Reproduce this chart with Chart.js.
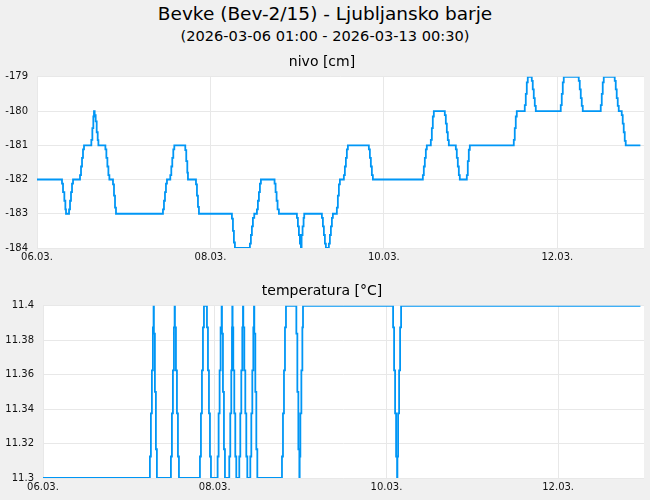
<!DOCTYPE html>
<html>
<head>
<meta charset="utf-8">
<script src="https://cdn.jsdelivr.net/npm/chart.js@4.4.1/dist/chart.umd.min.js"></script>
<style>
body { margin:0; background:#f0f0f0; width:650px; height:500px; overflow:hidden; font-family:"DejaVu Sans", sans-serif; }
#title { position:absolute; left:0; top:3px; width:650px; text-align:center; font-size:18.5px; line-height:21px; color:#000; }
#subtitle { position:absolute; left:0; top:27px; width:650px; text-align:center; font-size:14.6px; line-height:18px; color:#000; }
#c1 { position:absolute; left:0; top:50px; }
#c2 { position:absolute; left:0; top:279px; }
</style>
</head>
<body>
<div id="title">Bevke (Bev-2/15) - Ljubljansko barje</div>
<div id="subtitle">(2026-03-06 01:00 - 2026-03-13 00:30)</div>
<canvas id="c1" width="650" height="221"></canvas>
<canvas id="c2" width="650" height="221"></canvas>
<script>
// hours from 06.03. 00:00, value holds until next point (stepped)
var nivoHours = [0, 6.92, 7.2, 7.57, 7.85, 8.03, 8.87, 9.14, 9.41, 9.69, 9.97,
  11.9, 12.18, 12.46, 12.73, 13.01, 15.04, 15.32, 15.59, 15.77, 15.96, 16.24, 16.52, 16.8, 16.99,
  18.93, 19.2, 19.48, 19.76, 20.03, 21.03, 21.31, 21.59, 21.86,
  34.86, 35.14, 35.42, 35.69, 35.97, 36.89, 37.17, 37.44, 37.72, 38.0,
  41.04, 41.31, 41.6, 41.78, 44.0, 44.27, 44.55, 44.82,
  53.95, 54.23, 54.5, 54.78, 58.93, 59.2, 59.48, 59.76, 60.13,
  60.87, 61.14, 61.42, 61.7, 61.97, 65.75, 66.03, 66.31, 66.58, 66.95,
  71.93, 72.21, 72.49, 72.76, 73.04, 73.23, 73.5, 73.78, 73.96,
  78.85, 79.13, 79.4, 79.68, 79.95, 80.78, 81.06, 81.34, 81.62, 81.89,
  82.99, 83.27, 83.55, 83.83, 84.93, 85.21, 85.49, 85.76, 86.04,
  91.85, 92.13, 92.4, 92.68, 92.96,
  106.79, 107.06, 107.34, 107.62, 107.89, 109.0, 109.28, 109.55, 109.83,
  112.87, 113.15, 113.43, 113.7, 113.98, 115.92, 116.19, 116.47, 116.75, 117.02,
  118.96, 119.23, 119.51, 119.79,
  131.96, 132.23, 132.51, 132.79, 135.0, 135.28, 135.56, 135.83,
  136.94, 137.21, 137.49, 137.77, 138.05,
  144.96, 145.24, 145.52, 145.79, 149.94, 150.22, 150.5, 150.77, 151.05,
  156.03, 156.31, 156.58, 156.86, 159.9, 160.18, 160.45, 160.73, 161.01,
  161.84, 162.11, 162.39, 162.67, 162.94, 167];
var nivoValues = [-182, -182.12, -182.37, -182.62, -182.87, -183, -182.87, -182.62, -182.37, -182.12, -182,
  -181.87, -181.62, -181.37, -181.12, -181, -180.84, -180.5, -180.16, -180, -180.12, -180.3, -180.62, -180.85, -181,
  -181.12, -181.37, -181.62, -181.87, -182, -182.14, -182.47, -182.82, -183,
  -182.87, -182.62, -182.37, -182.12, -182, -181.87, -181.62, -181.37, -181.12, -181,
  -181.14, -181.46, -181.8, -182, -182.14, -182.47, -182.8, -183,
  -183.14, -183.5, -183.84, -184, -183.87, -183.62, -183.37, -183.12, -183,
  -182.87, -182.62, -182.37, -182.12, -182, -182.12, -182.37, -182.62, -182.87, -183,
  -183.12, -183.37, -183.62, -183.87, -184, -183.62, -183.37, -183.12, -183,
  -183.12, -183.37, -183.62, -183.87, -184, -183.87, -183.62, -183.37, -183.12, -183,
  -182.82, -182.47, -182.14, -182, -181.87, -181.62, -181.37, -181.12, -181,
  -181.12, -181.37, -181.62, -181.87, -182,
  -181.87, -181.62, -181.37, -181.12, -181, -180.84, -180.5, -180.16, -180,
  -180.12, -180.37, -180.62, -180.85, -181, -181.12, -181.37, -181.62, -181.87, -182,
  -181.87, -181.46, -181.13, -181,
  -180.84, -180.5, -180.16, -180, -179.83, -179.5, -179.16, -179,
  -179.12, -179.37, -179.62, -179.85, -180,
  -179.83, -179.5, -179.16, -179, -179.12, -179.37, -179.62, -179.85, -180,
  -179.83, -179.5, -179.16, -179, -179.12, -179.37, -179.62, -179.85, -180,
  -180.12, -180.37, -180.62, -180.87, -181, -181];

var tempHours = [0, 29.88, 30.16, 30.44, 30.72, 30.91, 31.0, 31.28, 31.56, 31.84,
  35.76, 36.04, 36.32, 36.6, 36.79, 36.88, 37.16, 37.44, 37.72, 38.0,
  43.87, 44.15, 44.43, 44.71, 44.99, 45.83, 46.11, 46.39, 46.67, 46.95,
  48.81, 49.09, 49.37, 49.65, 49.93, 50.03, 50.3, 50.58, 50.86,
  52.07, 52.35, 52.63, 52.82, 52.91, 53.0, 53.19, 53.47, 53.75, 54.03,
  54.87, 55.15, 55.43, 55.71, 55.9, 55.99, 56.27, 56.55, 56.83, 57.11,
  57.95, 58.23, 58.51, 58.79, 58.98, 59.07, 59.35, 59.63, 59.91,
  66.8, 67.08, 67.36, 67.64, 67.92, 70.82, 71.1, 71.38, 71.66,
  71.75, 71.94, 72.22, 72.5, 72.68,
  97.86, 98.14, 98.42, 98.7, 98.98, 99.07, 99.26, 99.54, 99.82, 100.1, 167];
var tempValues = [11.3, 11.3125, 11.3375, 11.3625, 11.3875, 11.4, 11.3838, 11.35, 11.3167, 11.3,
  11.3125, 11.3375, 11.3625, 11.3875, 11.4, 11.3875, 11.3625, 11.3375, 11.3125, 11.3,
  11.3125, 11.3375, 11.3625, 11.3875, 11.4, 11.3875, 11.3625, 11.3375, 11.3125, 11.3,
  11.3125, 11.3375, 11.3625, 11.3875, 11.4, 11.3838, 11.35, 11.3167, 11.3,
  11.3125, 11.3375, 11.3625, 11.3875, 11.4, 11.3875, 11.3625, 11.3375, 11.3125, 11.3,
  11.3125, 11.3375, 11.3625, 11.3875, 11.4, 11.3875, 11.3625, 11.3375, 11.3125, 11.3,
  11.3125, 11.3375, 11.3625, 11.3875, 11.4, 11.3838, 11.35, 11.3167, 11.3,
  11.3125, 11.3375, 11.3625, 11.3875, 11.4, 11.3838, 11.35, 11.3167, 11.3,
  11.3125, 11.3375, 11.3625, 11.3875, 11.4,
  11.3875, 11.3625, 11.3375, 11.3125, 11.3, 11.3125, 11.3375, 11.3625, 11.3875, 11.4, 11.4];

var xTickHours = [0, 48, 96, 144];
var xTickLabels = ['06.03.', '08.03.', '10.03.', '12.03.'];
var nivoTicks = [-184, -183, -182, -181, -180, -179];
var tempTicks = [11.3, 11.32, 11.34, 11.36, 11.38, 11.4];

var lineColor = 'rgb(0,150,245)';
var gridColor = '#e8e8e8';
var fontName = "'DejaVu Sans', sans-serif";

var whiteArea = {
  id: 'whiteArea',
  beforeDraw: function(chart) {
    var a = chart.chartArea;
    var ctx = chart.ctx;
    ctx.save();
    ctx.fillStyle = '#ffffff';
    ctx.fillRect(a.left, a.top, a.right - a.left, a.bottom - a.top);
    ctx.restore();
  }
};

function points(hours, values) {
  return hours.map(function(h, i) { return {x: h, y: values[i]}; });
}

function makeChart(id, title, hours, values, yTicks, yWidth, padBottom) {
  var ctx = document.getElementById(id).getContext('2d');
  return new Chart(ctx, {
    type: 'line',
    data: {
      datasets: [{
        data: points(hours, values),
        borderColor: lineColor,
        borderWidth: 1.8,
        pointRadius: 0,
        stepped: true,
        fill: false
      }]
    },
    options: {
      responsive: false,
      animation: false,
      layout: { padding: { left: 0, right: 6, top: 0, bottom: padBottom } },
      plugins: {
        legend: { display: false },
        tooltip: { enabled: false },
        title: {
          display: true,
          text: title,
          color: '#000',
          font: { family: fontName, size: 14, weight: 'normal' },
          padding: { top: 3.5, bottom: 6.5 }
        }
      },
      scales: {
        x: {
          type: 'linear',
          min: 0,
          max: 168,
          afterBuildTicks: function(scale) {
            scale.ticks = xTickHours.map(function(v) { return {value: v}; });
          },
          ticks: {
            color: '#111',
            font: { family: fontName, size: 10 },
            padding: 3,
            maxRotation: 0,
            autoSkip: false,
            callback: function(v) {
              var i = xTickHours.indexOf(v);
              return i >= 0 ? xTickLabels[i] : '';
            }
          },
          grid: { color: gridColor, drawTicks: false },
          border: { display: false }
        },
        y: {
          min: yTicks[0],
          max: yTicks[yTicks.length - 1],
          afterBuildTicks: function(scale) {
            scale.ticks = yTicks.map(function(v) { return {value: v}; });
          },
          afterFit: function(scale) { scale.width = yWidth; },
          ticks: {
            color: '#111',
            font: { family: fontName, size: 10 },
            padding: 9,
            autoSkip: false,
            callback: function(v) { return String(Math.round(v * 100) / 100); }
          },
          grid: { color: gridColor, drawTicks: false },
          border: { display: false }
        }
      }
    },
    plugins: [whiteArea]
  });
}

var nivoChart = makeChart('c1', 'nivo [cm]', nivoHours, nivoValues, nivoTicks, 37, 5);
var tempChart = makeChart('c2', 'temperatura [°C]', tempHours, tempValues, tempTicks, 43, 4);
</script>
</body>
</html>
